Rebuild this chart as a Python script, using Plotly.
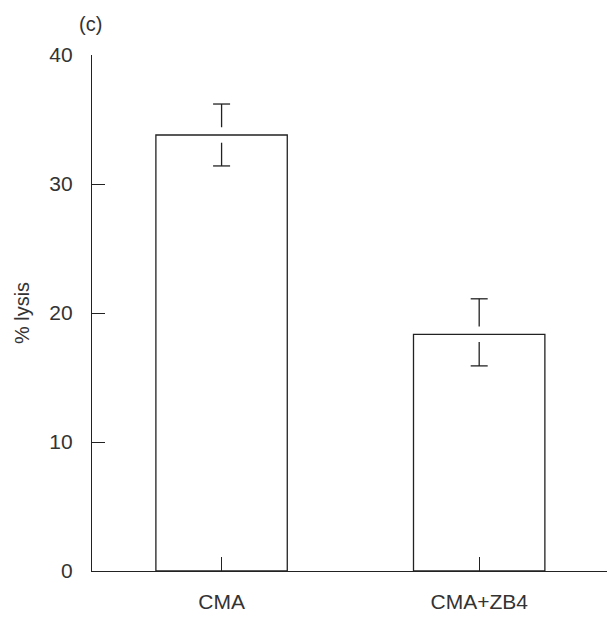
import plotly.graph_objects as go

categories = ["CMA", "CMA+ZB4"]
lysis_mean = [33.8, 18.35]
lysis_err_up = [2.4, 2.75]
lysis_err_down = [2.4, 2.45]
y_ticks = [0, 10, 20, 30, 40]
panel_label = "(c)"
y_title = "% lysis"

LINE = "#222222"
TEXT = "#333333"
GAP = 0.6        # gap (data units) between whisker and bar top
CAP = 0.033      # half cap width (category units)

fig = go.Figure()
fig.add_trace(go.Bar(
    x=list(range(len(categories))), y=lysis_mean, width=0.51,
    marker=dict(color="white", line=dict(color=LINE, width=1.3)),
    showlegend=False, hoverinfo="skip"))

ex, ey = [], []
for i, (m, u, d) in enumerate(zip(lysis_mean, lysis_err_up, lysis_err_down)):
    ex += [i, i, None, i - CAP, i + CAP, None]
    ey += [m + GAP, m + u, None, m + u, m + u, None]
    ex += [i, i, None, i - CAP, i + CAP, None]
    ey += [m - GAP, m - d, None, m - d, m - d, None]
fig.add_trace(go.Scatter(x=ex, y=ey, mode="lines",
                         line=dict(color=LINE, width=1.3),
                         showlegend=False, hoverinfo="skip"))

fig.update_layout(
    width=615, height=619,
    margin=dict(l=84, r=15, t=47, b=56),
    plot_bgcolor="white", paper_bgcolor="white",
    font=dict(family="Liberation Sans, Arial, sans-serif", size=21, color=TEXT),
    xaxis=dict(range=[-0.503, 1.5], tickvals=list(range(len(categories))),
               ticktext=categories, ticks="inside", ticklen=14, tickwidth=1.3,
               tickcolor=LINE, showline=True, linecolor=LINE, linewidth=1.3,
               showgrid=False, zeroline=False, ticklabelstandoff=12),
    yaxis=dict(range=[0, 40], tickvals=y_ticks, ticks="inside", ticklen=13,
               tickwidth=1.3, tickcolor=LINE, showline=True, linecolor=LINE,
               linewidth=1.3, showgrid=False, zeroline=False,
               ticklabelstandoff=14,
               title=dict(text=y_title, standoff=14, font=dict(size=20))),
    annotations=[dict(text=panel_label, x=-0.003, y=(571 - 24) / 516,
                      xref="paper", yref="paper", xanchor="center",
                      yanchor="middle", showarrow=False,
                      font=dict(size=20, color=TEXT))],
)
fig.write_html("out.html")
